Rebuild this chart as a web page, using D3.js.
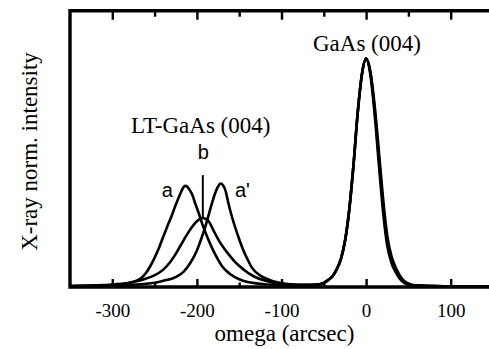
<!DOCTYPE html>
<html><head><meta charset="utf-8">
<script src="https://cdn.jsdelivr.net/npm/d3@7"></script>
<style>
html,body{margin:0;padding:0;background:#fff;}
svg{display:block;}
.serif{font-family:"Liberation Serif","Times New Roman","DejaVu Serif",serif;}
.sans{font-family:"Liberation Sans",Arial,sans-serif;}
</style></head>
<body>
<svg id="chart" width="489" height="349"></svg>
<script>
// ---- data (omega in arcsec, normalized X-ray intensity) ----
const xTicksMajor = [-300, -200, -100, 0, 100];
const xTicksMinor = [-250, -150, -50, 50];

const curveA = [[-350,0.004],[-320,0.006],[-300,0.009],[-290,0.012],[-280,0.018],[-270,0.030],[-265,0.042],[-260,0.062],[-255,0.092],[-250,0.128],[-245,0.170],[-240,0.218],[-235,0.265],[-230,0.31],[-225,0.36],[-220,0.405],[-217,0.43],[-214,0.443],[-211,0.438],[-208,0.422],[-205,0.40],[-202,0.366],[-198,0.325],[-194,0.28],[-190,0.24],[-185,0.195],[-180,0.155],[-175,0.12],[-170,0.09],[-165,0.07],[-160,0.055],[-150,0.034],[-140,0.022],[-130,0.016],[-120,0.012],[-100,0.009],[-80,0.008],[-65,0.009],[-55,0.012],[-50,0.018],[-45,0.03],[-40,0.045],[-35,0.075],[-30,0.12],[-25,0.2],[-20,0.335],[-15,0.53],[-10,0.76],[-5,0.93],[0,1.0],[5,0.93],[10,0.76],[15,0.54],[20,0.33],[25,0.18],[30,0.105],[35,0.065],[40,0.035],[45,0.018],[50,0.01],[60,0.006],[80,0.004],[100,0.003],[150,0.003]];

const curveB = [[-350,0.004],[-320,0.007],[-300,0.011],[-280,0.019],[-270,0.026],[-260,0.037],[-251,0.05],[-240,0.075],[-232,0.107],[-225,0.145],[-218,0.19],[-212,0.228],[-206,0.262],[-200,0.288],[-196,0.298],[-193,0.302],[-190,0.299],[-186,0.287],[-180,0.245],[-175,0.21],[-168,0.17],[-160,0.132],[-155,0.11],[-145,0.077],[-133,0.047],[-120,0.028],[-110,0.019],[-100,0.013],[-80,0.008],[-65,0.009],[-55,0.012],[-50,0.018],[-45,0.03],[-40,0.046],[-35,0.076],[-30,0.12],[-25,0.2],[-20,0.335],[-15,0.53],[-10,0.76],[-5,0.93],[0,1.0],[5,0.94],[10,0.78],[15,0.57],[20,0.36],[25,0.2],[30,0.12],[35,0.075],[40,0.042],[45,0.022],[50,0.012],[60,0.006],[80,0.004],[100,0.003],[150,0.003]];

const curveA2 = [[-350,0.003],[-300,0.006],[-280,0.009],[-260,0.014],[-250,0.019],[-240,0.027],[-230,0.036],[-224,0.045],[-215,0.07],[-208,0.104],[-200,0.16],[-194,0.22],[-188,0.29],[-182,0.37],[-178,0.415],[-175,0.44],[-172,0.453],[-169,0.445],[-166,0.42],[-163,0.37],[-158,0.30],[-151,0.22],[-145,0.16],[-140,0.12],[-135,0.085],[-125,0.05],[-117,0.035],[-110,0.025],[-100,0.017],[-90,0.012],[-80,0.010],[-65,0.010],[-55,0.012],[-50,0.018],[-45,0.03],[-40,0.046],[-35,0.076],[-30,0.12],[-25,0.2],[-20,0.335],[-15,0.53],[-10,0.76],[-5,0.93],[0,1.0],[5,0.945],[10,0.8],[15,0.6],[20,0.39],[25,0.225],[30,0.135],[35,0.085],[40,0.05],[45,0.027],[50,0.015],[55,0.009],[60,0.007],[80,0.004],[100,0.003],[150,0.003]];

const seriesNames = ["a", "b", "a'"];
const peakLabels = ["LT-GaAs (004)", "GaAs (004)"];

// ---- layout ----
const svg = d3.select("#chart");
const x = d3.scaleLinear().domain([-350, 150]).range([70, 493]);
const y = d3.scaleLinear().domain([0, 1.21]).range([287, 10.7]);

// curves
const line = d3.line().x(d => x(d[0])).y(d => y(d[1])).curve(d3.curveMonotoneX);
const g = svg.append("g");
[curveA, curveB, curveA2].forEach(c => {
  g.append("path").attr("d", line(c)).attr("fill", "none")
    .attr("stroke", "#000").attr("stroke-width", 2.6).attr("stroke-linejoin", "round");
});

// frame (left, top, bottom; right edge is beyond the image)
svg.append("path")
  .attr("d", `M${x(150)},${y.range()[1]}H${x(-350)}V${y.range()[0]}H${x(150)}`)
  .attr("fill", "none").attr("stroke", "#000").attr("stroke-width", 3.4);

// bottom axis
const xb = d3.axisBottom(x).tickValues(xTicksMajor).tickSize(-8).tickPadding(17)
  .tickFormat(d => String(d));
const ax = svg.append("g").attr("transform", `translate(0,${y(0)})`).call(xb);
ax.attr("font-family", null).attr("font-size", null);
ax.select(".domain").remove();
ax.selectAll("line").attr("stroke", "#000").attr("stroke-width", 2.4);
ax.selectAll("text").attr("class", "serif").style("font-size", "19px").attr("fill", "#000");
const axm = svg.append("g").attr("transform", `translate(0,${y(0)})`)
  .call(d3.axisBottom(x).tickValues(xTicksMinor).tickSize(-4.5).tickFormat(""));
axm.select(".domain").remove();
axm.selectAll("line").attr("stroke", "#000").attr("stroke-width", 2.4);

// top axis
const at = svg.append("g").attr("transform", `translate(0,${y.range()[1]})`)
  .call(d3.axisTop(x).tickValues(xTicksMajor).tickSize(-9).tickFormat(""));
at.select(".domain").remove();
at.selectAll("line").attr("stroke", "#000").attr("stroke-width", 2.4);
const atm = svg.append("g").attr("transform", `translate(0,${y.range()[1]})`)
  .call(d3.axisTop(x).tickValues(xTicksMinor).tickSize(-6).tickFormat(""));
atm.select(".domain").remove();
atm.selectAll("line").attr("stroke", "#000").attr("stroke-width", 2.4);

// axis titles
svg.append("text").attr("class", "serif").attr("x", 284.5).attr("y", 341).attr("text-anchor", "middle")
  .style("font-size", "23px").text("omega (arcsec)");
svg.append("text").attr("class", "serif").attr("transform", "translate(37,151.5) rotate(-90)").attr("text-anchor", "middle")
  .style("font-size", "23px").text("X-ray norm. intensity");

// peak labels
svg.append("text").attr("class", "serif").attr("x", x(-195.5)).attr("y", y(0.674)).attr("text-anchor", "middle")
  .style("font-size", "23px").text(peakLabels[0]);
svg.append("text").attr("class", "serif").attr("x", x(1)).attr("y", y(1.033)).attr("text-anchor", "middle")
  .style("font-size", "23px").text(peakLabels[1]);

// series labels
svg.append("text").attr("class", "sans").attr("x", x(-235)).attr("y", y(0.394)).attr("text-anchor", "middle")
  .style("font-size", "20px").text(seriesNames[0]);
svg.append("text").attr("class", "sans").attr("x", x(-192.5)).attr("y", y(0.56)).attr("text-anchor", "middle")
  .style("font-size", "20px").text(seriesNames[1]);
svg.append("text").attr("class", "sans").attr("x", x(-155)).attr("y", y(0.394)).attr("text-anchor", "start")
  .style("font-size", "20px").text(seriesNames[2]);
svg.append("line").attr("x1", x(-193)).attr("x2", x(-193)).attr("y1", y(0.49)).attr("y2", y(0.302))
  .attr("stroke", "#000").attr("stroke-width", 2);
</script>
</body></html>
